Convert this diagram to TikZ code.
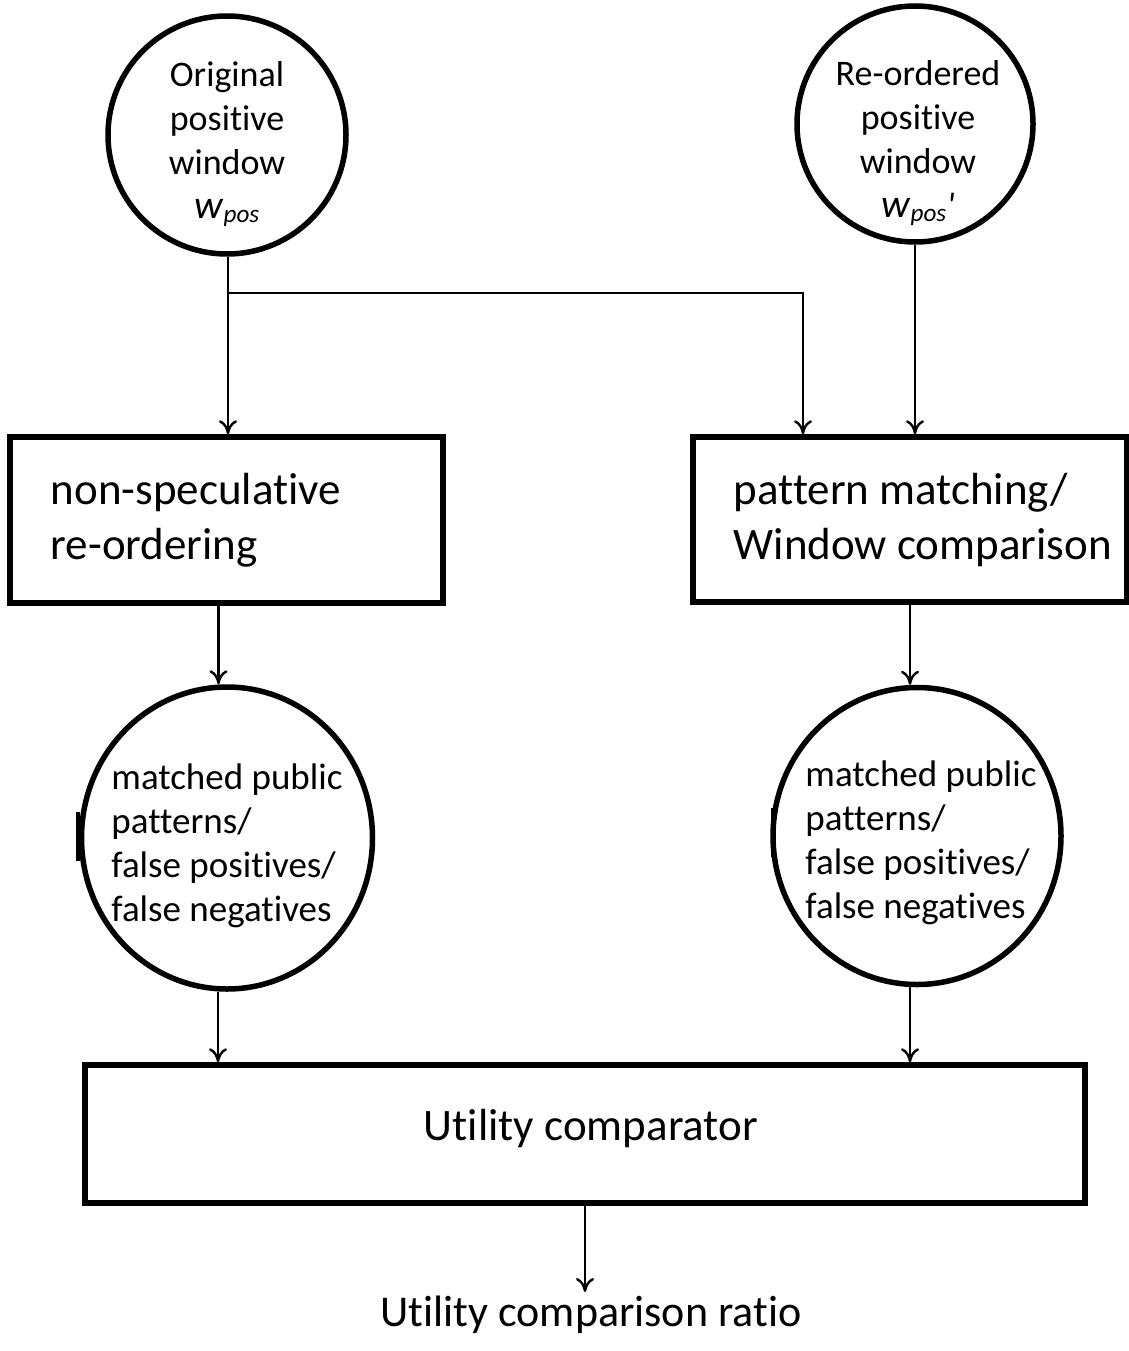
\documentclass[tikz,border=0pt]{standalone}
\usepackage{fontspec}
\setmainfont[Ligatures=NoCommon]{Carlito}
\usetikzlibrary{calc,arrows.meta,shapes.geometric}
\tikzset{
  conn/.style={line width=2.8pt, -{To[length=14pt,width=18pt,line width=2.4pt]}},
  plainconn/.style={line width=2.8pt},
  bubble/.style={circle, draw, line width=5.5pt, inner sep=0pt},
  oval/.style={ellipse, draw, line width=5.5pt, inner sep=0pt},
  block/.style={rectangle, draw, line width=5.5pt, inner sep=0pt},
  toptext/.style={align=center, font=\fontsize{36}{44}\selectfont},
  midtext/.style={align=left, font=\fontsize{37}{44}\selectfont},
  boxtext/.style={align=left, anchor=west, font=\fontsize{45}{55}\selectfont},
}
\begin{document}
\begin{tikzpicture}[x=1pt, y=-1pt]
\useasboundingbox (0,0) rectangle (1128,1351);

% input windows
\node[bubble, minimum size=238pt] (orig) at (227,135) {};
\node[toptext] (origtxt) at (227,144) {Original\\positive\\window\\{\fontsize{40}{44}\selectfont\textit{w}}\textsubscript{\textit{pos}}};
\node[bubble, minimum size=236pt] (reord) at (915,124) {};
\node[toptext] (reordtxt) at (918,143) {Re-ordered\\positive\\window\\{\fontsize{40}{44}\selectfont\textit{w}}\textsubscript{\textit{pos}}\textit{\textquotesingle}};

% processing blocks
\node[block, minimum width=433pt, minimum height=166pt] (nsr) at (226.5,520) {};
\node[boxtext] (nsrtxt) at ($(nsr.west)+(40,0)$) {non-speculative\\re-ordering};
\node[block, minimum width=434pt, minimum height=165pt] (pm) at (910,519.5) {};
\node[boxtext] (pmtxt) at ($(pm.west)+(40,0)$) {pattern matching/\\Window comparison};

% matching results
\node[oval, minimum width=291pt, minimum height=302pt] (mL) at (227,838) {};
\node[midtext] (mLtxt) at (227,846) {matched public\\patterns/\\false positives/\\false negatives};
\node[oval, minimum width=288pt, minimum height=297pt] (mR) at (917,836) {};
\node[midtext] (mRtxt) at (921,843) {matched public\\patterns/\\false positives/\\false negatives};

% small marks on the left rims of the result circles
\coordinate (tLa) at (78,812);
\coordinate (tLb) at (78,861);
\coordinate (tRa) at (773,808);
\coordinate (tRb) at (773,857);
\draw[line width=4pt] (tLa) -- (tLb);
\draw[line width=4pt] (tRa) -- (tRb);

% comparator and output
\node[block, minimum width=1000pt, minimum height=138pt] (ut) at (585,1134) {};
\node[font=\fontsize{45}{55}\selectfont] (uttxt) at (591,1128) {Utility comparator};
\node[font=\fontsize{44}{55}\selectfont, anchor=north] (ratio) at (591,1292) {Utility comparison ratio};

% connectors
\coordinate (j) at (228,293);
\draw[plainconn] (orig.south -| j) -- (j);
\draw[conn] (j) -- (j |- nsr.north);
\coordinate (pmin) at (803,437);
\draw[conn] (j) -| (pmin |- pm.north);
\draw[conn] (reord.south) -- (reord.south |- pm.north);

\coordinate (a1) at ($(nsr.south)+(-8,0)$);
\draw[conn] (a1) -- (a1 |- mL.north);
\coordinate (a2) at ($(pm.south)+(0,0)$);
\draw[conn] (a2) -- (a2 |- mR.north);

\coordinate (b1) at ($(mL.south)+(-9,0)$);
\draw[conn] (b1) -- (b1 |- ut.north);
\coordinate (b2) at ($(mR.south)+(-7,0)$);
\draw[conn] (b2) -- (b2 |- ut.north);

\draw[conn] (ut.south) -- (ut.south |- ratio.north);
\end{tikzpicture}
\end{document}
